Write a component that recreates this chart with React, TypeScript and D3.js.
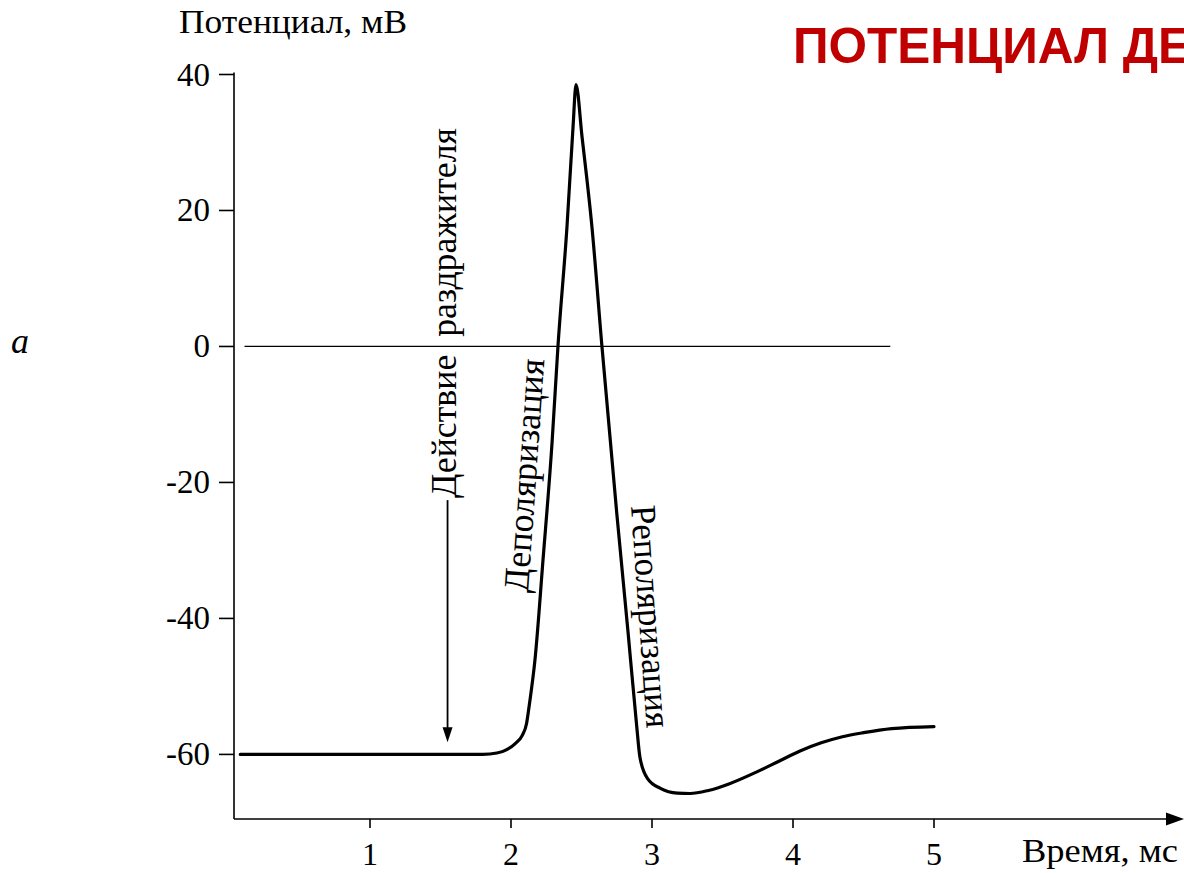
import React from "react";
import * as d3 from "d3";

// ---- data ----
const timeMs = [0.08, 0.5, 1.0, 1.5, 1.8, 1.9, 1.97, 2.03, 2.08, 2.11, 2.13, 2.17, 2.227, 2.291, 2.333, 2.397, 2.44, 2.461, 2.504, 2.574, 2.645, 2.75, 2.83, 2.89, 2.915, 2.97, 3.06, 3.18, 3.27, 3.4, 3.55, 3.74, 3.9, 4.05, 4.2, 4.35, 4.5, 4.7, 5.0];
const potentialMv = [-60, -60, -60, -60, -60, -59.8, -59.3, -58.4, -57.2, -55.5, -52.7, -46.1, -31.4, -14.2, 0, 17.6, 32.3, 38.5, 30.8, 17.6, 0, -24.5, -42, -55.5, -60.5, -63.6, -65.0, -65.7, -65.75, -65.3, -64.3, -62.6, -61.0, -59.5, -58.3, -57.4, -56.8, -56.2, -55.9];
const yTicks = [40, 20, 0, -20, -40, -60];
const xTicks = [1, 2, 3, 4, 5];
const zeroLineFrom = 0.11;
const zeroLineTo = 4.69;
const stimulusTime = 1.55;
const stimulusFrom = -22.6;
const stimulusTo = -58.2;

const yLabel = "Потенциал, мВ";
const xLabel = "Время, мс";
const title = "ПОТЕНЦИАЛ ДЕЙСТВИЯ";
const stimulusLabel = "Действие  раздражителя";
const depolLabel = "Деполяризация";
const repolLabel = "Реполяризация";
const panelLabel = "a";

const W = 1184;
const H = 873;

export default function App() {
  const x = d3.scaleLinear().domain([0, 6.7]).range([229, 229 + 6.7 * 141]);
  const y = d3.scaleLinear().domain([-69.5, 40]).range([819, 74.5]);
  const axisX = 234;
  const axisY = 819;

  const pts: [number, number][] = timeMs.map((t, i) => [t, potentialMv[i]]);
  const line = d3
    .line<[number, number]>()
    .x((d) => x(d[0]))
    .y((d) => y(d[1]))
    .curve(d3.curveMonotoneX);

  const serif = "'Liberation Serif', 'Times New Roman', serif";
  const sx = x(stimulusTime);

  return (
    <svg
      width={W}
      height={H}
      viewBox={`0 0 ${W} ${H}`}
      style={{ position: "absolute", left: 0, top: 0, background: "#fff", overflow: "hidden" }}
    >
      <rect x={0} y={0} width={W} height={H} fill="#fff" />
      {/* title */}
      <text x={793} y={63} fill="#c00000" fontFamily="'Liberation Sans', Arial, sans-serif" fontWeight="bold" fontSize={49.5}>
        {title}
      </text>
      {/* y label */}
      <text x={179} y={33} fontFamily={serif} fontSize={34} textLength={228} lengthAdjust="spacingAndGlyphs">
        {yLabel}
      </text>
      {/* panel label */}
      <text x={11} y={353} fontFamily={serif} fontStyle="italic" fontSize={36}>
        {panelLabel}
      </text>
      {/* axes */}
      <line x1={axisX} y1={y(40) - 2} x2={axisX} y2={axisY} stroke="#000" strokeWidth={1.6} />
      <line x1={axisX} y1={axisY} x2={1170} y2={axisY} stroke="#000" strokeWidth={1.6} />
      <path d={`M1166,${axisY - 6.5} L1184,${axisY} L1166,${axisY + 6.5} Z`} fill="#000" />
      {yTicks.map((v) => (
        <g key={"y" + v}>
          <line x1={219} x2={axisX} y1={y(v)} y2={y(v)} stroke="#000" strokeWidth={1.6} />
          <text x={210} y={y(v) + 11} textAnchor="end" fontFamily={serif} fontSize={33}>
            {v}
          </text>
        </g>
      ))}
      {xTicks.map((t) => (
        <g key={"x" + t}>
          <line x1={x(t)} x2={x(t)} y1={axisY} y2={axisY + 9} stroke="#000" strokeWidth={1.6} />
          <text x={x(t)} y={865} textAnchor="middle" fontFamily={serif} fontSize={32}>
            {t}
          </text>
        </g>
      ))}
      <text x={1022} y={862} fontFamily={serif} fontSize={33} textLength={156} lengthAdjust="spacingAndGlyphs">
        {xLabel}
      </text>
      {/* zero line */}
      <line x1={x(zeroLineFrom)} x2={x(zeroLineTo)} y1={y(0)} y2={y(0)} stroke="#000" strokeWidth={1.3} />
      {/* curve */}
      <path d={line(pts) || ""} fill="none" stroke="#000" strokeWidth={3.2} strokeLinejoin="round" strokeLinecap="round" />
      {/* stimulus arrow */}
      <line x1={sx} x2={sx} y1={y(stimulusFrom)} y2={y(stimulusTo) - 12} stroke="#000" strokeWidth={1.8} />
      <path d={`M${sx - 5},${y(stimulusTo) - 15} L${sx},${y(stimulusTo)} L${sx + 5},${y(stimulusTo) - 15} Z`} fill="#000" />
      {/* rotated labels */}
      <text
        transform={`translate(456,498) rotate(-90)`}
        fontFamily={serif}
        fontSize={36}
        style={{ whiteSpace: "pre" }}
        textLength={370}
        lengthAdjust="spacingAndGlyphs"
      >
        {stimulusLabel}
      </text>
      <text transform={`translate(528,593) rotate(-86)`} fontFamily={serif} fontSize={36} textLength={234} lengthAdjust="spacingAndGlyphs">
        {depolLabel}
      </text>
      <text transform={`translate(631,506) rotate(86)`} fontFamily={serif} fontSize={36} textLength={223} lengthAdjust="spacingAndGlyphs">
        {repolLabel}
      </text>
    </svg>
  );
}
